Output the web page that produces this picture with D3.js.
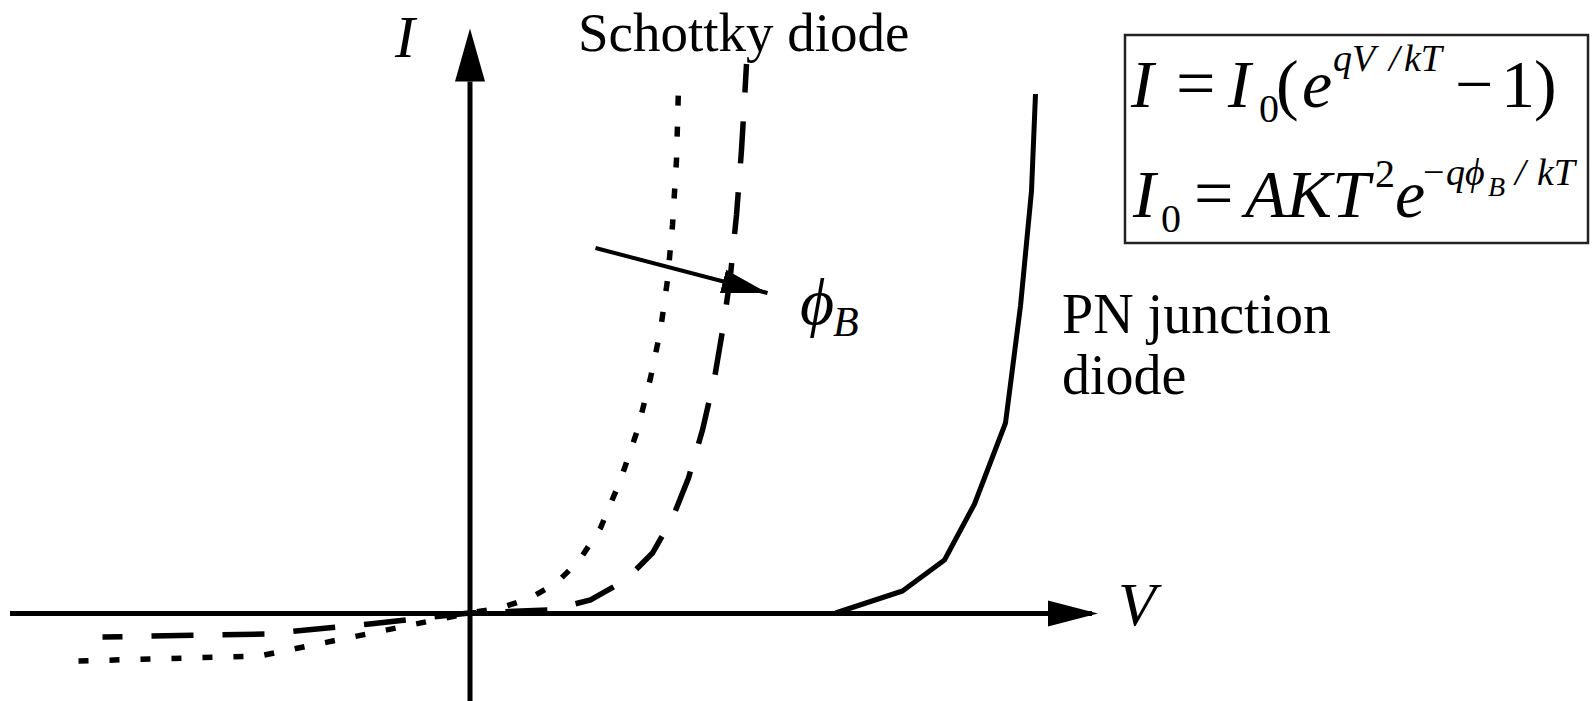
<!DOCTYPE html>
<html>
<head>
<meta charset="utf-8">
<script src="https://cdn.jsdelivr.net/npm/d3@7"></script>
<style>
  body { margin: 0; background: #fff; }
  svg { display: block; }
  text { font-family: "Liberation Serif", "Times New Roman", serif; fill: #000; }
</style>
</head>
<body>
<div id="chart"></div>
<script>

// I-V curves in arbitrary units (V to the right, I upwards)
var pnV = [3.66, 4.33, 4.75, 5.05, 5.36, 5.51, 5.62, 5.66];
var pnI = [0.00, 0.22, 0.53, 1.09, 1.90, 3.07, 4.22, 5.19];

// Schottky diode, higher barrier (dashed)
var highV = [-3.67, -2.05, -1.00, 0.00, 0.81, 1.21, 1.56, 1.83, 2.03, 2.19, 2.33, 2.45, 2.54, 2.61, 2.67, 2.72, 2.75, 2.77];
var highI = [-0.24, -0.21, -0.11, 0.00, 0.03, 0.13, 0.33, 0.60, 0.95, 1.35, 1.83, 2.35, 2.88, 3.38, 3.98, 4.63, 5.13, 5.49];

// Schottky diode, lower barrier (dotted)
var lowV = [-3.91, -2.10, 0.00, 0.31, 0.61, 0.87, 1.10, 1.31, 1.51, 1.68, 1.81, 1.91, 1.98, 2.03, 2.07, 2.09];
var lowI = [-0.48, -0.43, 0.00, 0.05, 0.15, 0.30, 0.53, 0.85, 1.33, 1.83, 2.35, 2.83, 3.33, 3.88, 4.53, 5.26];

// barrier height arrow
var phiV = [1.26, 2.98];
var phiI = [3.65, 3.20];

var curveLabels = ["Schottky diode", "PN junction", "diode"];

var w = 1593, h = 701;

var svg = d3.select("#chart")
    .append("svg")
    .attr("width", w)
    .attr("height", h);

var x = d3.scaleLinear().domain([-4.60, 6.22]).range([9.5, 1091.5]);
var y = d3.scaleLinear().domain([-0.88, 5.32]).range([701, 81]);

function zip(vs, is) {
    return vs.map(function(v, k) { return { v: v, i: is[k] }; });
}

// arrow heads
var defs = svg.append("defs");
function arrowHead(id, len, half, over) {
    defs.append("marker")
        .attr("id", id)
        .attr("markerUnits", "userSpaceOnUse")
        .attr("orient", "auto")
        .attr("markerWidth", len + 4)
        .attr("markerHeight", half * 2 + 4)
        .attr("viewBox", "0 " + (-half - 2) + " " + (len + 4) + " " + (half * 2 + 4))
        .attr("refX", len - over)
        .attr("refY", 0)
        .append("path")
        .attr("d", "M0," + (-half) + "L" + len + ",0L0," + half + "Z")
        .attr("fill", "#000");
}
arrowHead("ax-x", 50, 13, 6);
arrowHead("ax-y", 53, 15, 53);
arrowHead("phi", 46, 12, 0);

// axes (no ticks, only the arrowed lines)
var gx = svg.append("g")
    .attr("transform", "translate(0," + y(0) + ")")
    .call(d3.axisBottom(x).tickValues([]).tickSizeOuter(0));
gx.select(".domain")
    .attr("stroke", "#000")
    .attr("stroke-width", 5)
    .attr("marker-end", "url(#ax-x)");

var gy = svg.append("g")
    .attr("transform", "translate(" + x(0) + ",0)")
    .call(d3.axisLeft(y).tickValues([]).tickSizeOuter(0));
gy.select(".domain")
    .attr("stroke", "#000")
    .attr("stroke-width", 5)
    .attr("marker-end", "url(#ax-y)");

var line = d3.line()
    .x(function(d) { return x(d.v); })
    .y(function(d) { return y(d.i); });

svg.append("path")
    .datum(zip(pnV, pnI))
    .attr("d", line)
    .attr("fill", "none")
    .attr("stroke", "#000")
    .attr("stroke-width", 5)
    .attr("stroke-linejoin", "round");

svg.append("path")
    .datum(zip(highV, highI))
    .attr("d", line)
    .attr("fill", "none")
    .attr("stroke", "#000")
    .attr("stroke-width", 5.5)
    .attr("stroke-dasharray", "42 29")
    .attr("stroke-dashoffset", 22);

svg.append("path")
    .datum(zip(lowV, lowI))
    .attr("d", line)
    .attr("fill", "none")
    .attr("stroke", "#000")
    .attr("stroke-width", 5.5)
    .attr("stroke-dasharray", "10 21");

svg.append("path")
    .datum(zip(phiV, phiI))
    .attr("d", line)
    .attr("fill", "none")
    .attr("stroke", "#000")
    .attr("stroke-width", 4)
    .attr("marker-end", "url(#phi)");

// labels
svg.append("text").attr("x", 395).attr("y", 57)
    .attr("font-size", 60).attr("font-style", "italic").text("I");
svg.append("text").attr("x", 1118).attr("y", 625)
    .attr("font-size", 62).attr("font-style", "italic").text("V");

svg.append("text").attr("x", 578).attr("y", 51)
    .attr("font-size", 55).text(curveLabels[0]);
svg.append("text").attr("x", 1062).attr("y", 333)
    .attr("font-size", 56).text(curveLabels[1]);
svg.append("text").attr("x", 1062).attr("y", 394)
    .attr("font-size", 56).text(curveLabels[2]);

var phiLabel = svg.append("text").attr("x", 800).attr("y", 324)
    .attr("font-style", "italic");
phiLabel.append("tspan").attr("font-size", 66).text("\u03d5");
phiLabel.append("tspan").attr("x", 833).attr("y", 336).attr("font-size", 42).text("B");

// formula box
svg.append("rect")
    .attr("x", 1125).attr("y", 35)
    .attr("width", 463).attr("height", 208)
    .attr("fill", "none")
    .attr("stroke", "#222")
    .attr("stroke-width", 2.5);

// parts: [x, text, font size, baseline shift, italic]
function mathLine(base, parts) {
    var t = svg.append("text");
    parts.forEach(function(p) {
        t.append("tspan")
            .attr("x", p[0])
            .attr("y", base + p[3])
            .attr("font-size", p[2])
            .attr("font-style", p[4] ? "italic" : "normal")
            .text(p[1]);
    });
}

mathLine(107, [
    [1131, "I", 68, 0, 1],
    [1176, "=", 70, 0, 0],
    [1228, "I", 68, 0, 1],
    [1259, "0", 40, 15, 0],
    [1276, "(", 68, 0, 0],
    [1302, "e", 68, 0, 1],
    [1333, "qV", 38, -36, 1],
    [1389, "/", 38, -36, 1],
    [1404, "kT", 38, -36, 1],
    [1455, "\u2212", 68, 0, 0],
    [1501, "1", 68, 0, 0],
    [1534, ")", 68, 0, 0]
]);

mathLine(217, [
    [1133, "I", 68, 0, 1],
    [1161, "0", 40, 15, 0],
    [1194, "=", 70, 0, 0],
    [1245, "AKT", 68, 0, 1],
    [1375, "2", 40, -30, 0],
    [1395, "e", 68, 0, 1],
    [1423, "\u2212", 38, -32, 0],
    [1446, "q", 38, -32, 1],
    [1465, "\u03d5", 38, -32, 1],
    [1488, "B", 28, -21, 1],
    [1515, "/", 38, -32, 1],
    [1537, "kT", 38, -32, 1]
]);

</script>
</body>
</html>
